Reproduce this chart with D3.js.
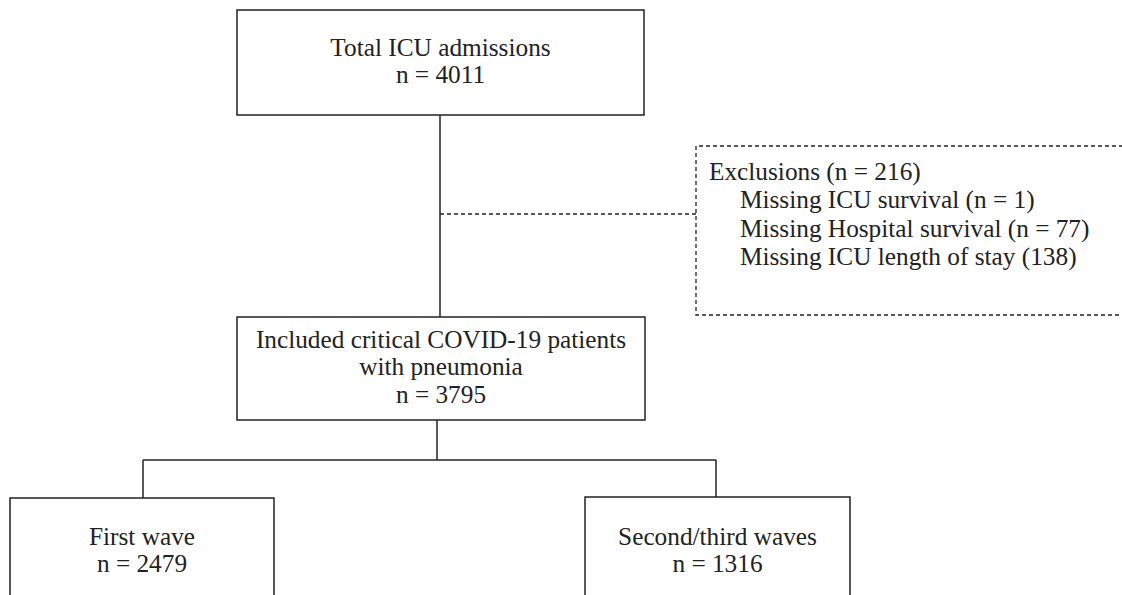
<!DOCTYPE html>
<html><head><meta charset="utf-8">
<script src="https://cdn.jsdelivr.net/npm/d3@7"></script>
<style>html,body{margin:0;padding:0;background:#fff;overflow:hidden}</style>
</head><body><svg id="c" width="1122" height="595"></svg>
<script>
// ---- data ----
const boxIds = ["total", "included", "first", "second"];
const boxLabels = [
  ["Total ICU admissions"],
  ["Included critical COVID-19 patients", "with pneumonia"],
  ["First wave"],
  ["Second/third waves"]
];
const boxCounts = [4011, 3795, 2479, 1316];
const exclusionTotal = 216;
const exclusionLabels = ["Missing ICU survival (n = 1)", "Missing Hospital survival (n = 77)", "Missing ICU length of stay (138)"];

// ---- layout ----
const svg = d3.select("#c");
const ink = "#222";
const font = "'Liberation Serif','Times New Roman',serif";
const fs = 25.3, lh = 27.3;
const geom = {
  total:    {x0: 237, x1: 644, y0: 10,  y1: 115},
  included: {x0: 237, x1: 645, y0: 317, y1: 420},
  first:    {x0: 10,  x1: 274, y0: 498, y1: 640},
  second:   {x0: 585, x1: 850, y0: 497, y1: 640}
};
const firstBase = {total: 56, included: 348, first: 545, second: 545};

const g = svg.append("g");
boxIds.forEach((id, i) => {
  const b = geom[id];
  g.append("rect").attr("x", b.x0).attr("y", b.y0).attr("width", b.x1 - b.x0).attr("height", b.y1 - b.y0)
    .attr("fill", "none").attr("stroke", ink).attr("stroke-width", 1.5);
  const lines = boxLabels[i].concat(["n = " + boxCounts[i]]);
  const cx = (b.x0 + b.x1) / 2;
  lines.forEach((t, k) => {
    g.append("text").attr("x", cx).attr("y", firstBase[id] + k * lh).attr("text-anchor", "middle")
      .attr("font-family", font).attr("font-size", fs).attr("fill", ink).text(t);
  });
});

// connectors
const line = d3.line();
const solid = [
  [[440, 115], [440, 317]],
  [[437, 420], [437, 460]],
  [[143, 460], [716, 460]],
  [[143, 460], [143, 498]],
  [[716, 460], [716, 497]]
];
solid.forEach(p => g.append("path").attr("d", line(p)).attr("fill", "none").attr("stroke", ink).attr("stroke-width", 1.5));

// dashed exclusion branch
const dashed = [
  [[440, 214], [696, 214]],
  [[1130, 146], [696, 146], [696, 315], [1130, 315]]
];
dashed.forEach(p => g.append("path").attr("d", line(p)).attr("fill", "none").attr("stroke", ink)
  .attr("stroke-width", 1.3).attr("stroke-dasharray", "4,3"));

const exLines = ["Exclusions (n = " + exclusionTotal + ")"].concat(exclusionLabels);
exLines.forEach((t, k) => {
  g.append("text").attr("x", k === 0 ? 709 : 740).attr("y", 180 + k * 28.4)
    .attr("font-family", font).attr("font-size", fs).attr("fill", ink).text(t);
});
</script></body></html>
